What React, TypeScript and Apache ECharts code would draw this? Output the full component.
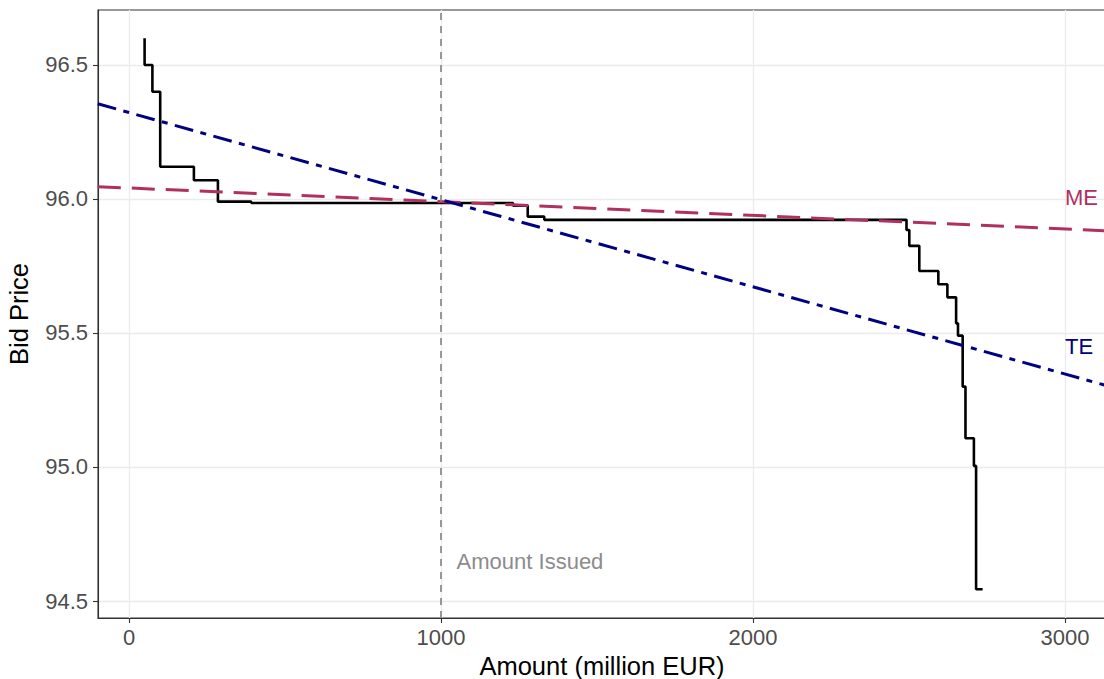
import React, { useEffect, useRef } from "react";
import * as echarts from "echarts";

// Bid curve (cumulative amount in million EUR, bid price), drawn as a step function
const amounts = [50, 75, 100, 208, 285, 392, 1231, 1278, 1331, 2492, 2501, 2533, 2594, 2623, 2651, 2657, 2672, 2681, 2708, 2715, 2736];
const prices = [96.6, 96.5, 96.4, 96.12, 96.07, 95.99, 95.985, 95.975, 95.934, 95.922, 95.884, 95.825, 95.731, 95.682, 95.633, 95.536, 95.49, 95.3, 95.107, 95.004, 94.544];

// Fitted lines (endpoints across the panel)
const meX = [-100, 3135];
const meY = [96.046, 95.881];
const teX = [-100, 3135];
const teY = [96.355, 95.303];

const amountIssued = 1000;

const xTicks = [0, 1000, 2000, 3000];
const yTicks = [94.5, 95.0, 95.5, 96.0, 96.5];

const labelTexts = ["Amount Issued", "ME", "TE"];
const labelX = [1050, 3000, 3000];
const labelY = [94.648, 96.004, 95.448];
const labelColors = ["#8C8C8C", "#B03060", "#000080"];

const FONT = "'Liberation Sans', Arial, Helvetica, sans-serif";

export default function App() {
  const ref = useRef<HTMLDivElement>(null);
  useEffect(() => {
    if (!ref.current) return;
    const chart = echarts.init(ref.current, null, { renderer: "svg" });
    const stepData = amounts.map((a, i) => [a, prices[i]]);
    const option = {
      animation: false,
      textStyle: { fontFamily: FONT },
      grid: {
        left: 98,
        right: -2,
        top: 10,
        bottom: 61,
        containLabel: false,
        outerBoundsMode: "none",
        show: true,
        borderColor: "#333333",
        borderWidth: 1.1,
        backgroundColor: "transparent",
      },
      xAxis: {
        type: "value",
        min: -99.36,
        max: 3131.4,
        name: "Amount (million EUR)",
        nameLocation: "middle",
        nameGap: 33,
        nameTextStyle: { color: "#000", fontSize: 25.5, fontFamily: FONT },
        axisLine: { show: true, onZero: false, lineStyle: { color: "#333333", width: 1.1 } },
        axisTick: { show: true, length: 5, customValues: xTicks, lineStyle: { color: "#333333", width: 1.1 } },
        axisLabel: {
          customValues: xTicks,
          color: "#4D4D4D",
          fontSize: 22,
          margin: 8,
          fontFamily: FONT,
          formatter: (v: number) => String(v),
        },
        splitLine: { show: true, lineStyle: { color: "#EBEBEB", width: 1.3 } },
      },
      yAxis: {
        type: "value",
        min: 94.4366,
        max: 96.705,
        name: "Bid Price",
        nameLocation: "middle",
        nameGap: 66,
        nameRotate: 90,
        nameTextStyle: { color: "#000", fontSize: 25.5, fontFamily: FONT },
        axisLine: { show: true, onZero: false, lineStyle: { color: "#333333", width: 1.1 } },
        axisTick: { show: true, length: 5, customValues: yTicks, lineStyle: { color: "#333333", width: 1.1 } },
        axisLabel: {
          customValues: yTicks,
          color: "#4D4D4D",
          fontSize: 22,
          margin: 10,
          fontFamily: FONT,
          formatter: (v: number) => v.toFixed(1),
        },
        splitLine: { show: true, lineStyle: { color: "#EBEBEB", width: 1.3 } },
      },
      series: [
        {
          type: "line",
          data: [],
          silent: true,
          z: 1,
          markLine: {
            silent: true,
            symbol: "none",
            label: { show: false },
            lineStyle: { color: "#808080", width: 1.6, type: [7, 6] },
            data: [{ xAxis: amountIssued }],
          },
        },
        {
          type: "line",
          step: "start",
          data: stepData,
          showSymbol: false,
          symbol: "none",
          z: 2,
          lineStyle: { color: "#000000", width: 2.6 },
        },
        {
          type: "line",
          data: meX.map((x, i) => [x, meY[i]]),
          showSymbol: false,
          symbol: "none",
          z: 3,
          lineStyle: { color: "#B03060", width: 3, type: [23, 11] },
        },
        {
          type: "line",
          data: teX.map((x, i) => [x, teY[i]]),
          showSymbol: false,
          symbol: "none",
          z: 4,
          lineStyle: { color: "#000080", width: 3, type: [19, 7.5, 6, 7.5] },
        },
        {
          type: "scatter",
          symbolSize: 0,
          z: 5,
          itemStyle: { opacity: 1 },
          data: labelTexts.map((t, i) => ({
            value: [labelX[i], labelY[i]],
            label: {
              show: true,
              formatter: t,
              position: "right",
              distance: 0,
              opacity: 1,
              color: labelColors[i],
              fontSize: 22,
              fontFamily: FONT,
            },
          })),
        },
      ],
    };
    chart.setOption(option as any);
    return () => chart.dispose();
  }, []);
  return (
    <div
      ref={ref}
      style={{ position: "absolute", left: 0, top: 0, width: 1104, height: 679 }}
    />
  );
}
